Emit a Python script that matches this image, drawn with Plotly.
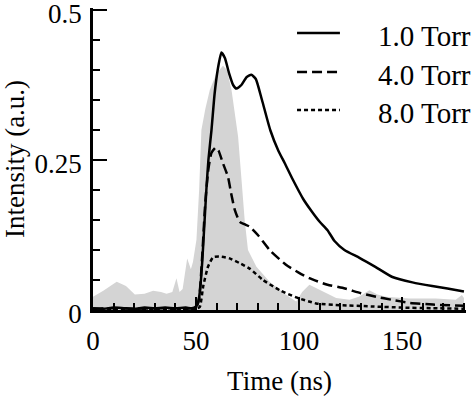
import plotly.graph_objects as go

# ---- data ----
t_1torr = [0, 5, 10, 15, 20, 25, 30, 35, 40, 45, 48, 50, 51, 52, 53, 54, 55, 56, 57.5, 59, 60.5, 62.3,
           64, 66, 68, 69.6, 72, 74.5, 76.8, 79, 82, 86, 90, 93, 97, 102, 106, 110, 113.8, 117.2, 122,
           129.3, 137, 145.3, 155, 164.6, 172, 180]
i_1torr = [0.003, 0.002, 0.004, 0.003, 0.002, 0.004, 0.003, 0.004, 0.003, 0.004, 0.003, 0.006, 0.012,
           0.035, 0.08, 0.14, 0.20, 0.25, 0.30, 0.36, 0.40, 0.429, 0.42, 0.395, 0.375, 0.369, 0.375,
           0.388, 0.392, 0.385, 0.35, 0.30, 0.265, 0.245, 0.217, 0.185, 0.165, 0.147, 0.133, 0.115,
           0.10, 0.087, 0.072, 0.055, 0.046, 0.040, 0.036, 0.031]

t_4torr = [0, 10, 20, 30, 40, 45, 50, 51.5, 53, 54.5, 56, 57.5, 59.6, 61, 63, 65.5, 67, 68.8, 71.2, 73.5,
           76, 80, 85.7, 93.8, 100, 105, 113.8, 121, 130, 137.4, 145, 153.5, 165, 180]
i_4torr = [0.002, 0.003, 0.002, 0.003, 0.003, 0.002, 0.004, 0.02, 0.09, 0.18, 0.235, 0.262, 0.271, 0.265,
           0.245, 0.222, 0.195, 0.167, 0.147, 0.143, 0.139, 0.125, 0.10, 0.075, 0.062, 0.053, 0.042,
           0.037, 0.028, 0.022, 0.017, 0.012, 0.009, 0.007]

t_8torr = [0, 10, 20, 30, 40, 50, 51.8, 53.5, 55.8, 58.3, 61.5, 66.3, 71.2, 76, 82.5, 90.6, 98.6, 108.3,
           120, 135, 150, 165, 180]
i_8torr = [0.001, 0.002, 0.001, 0.002, 0.001, 0.002, 0.005, 0.04, 0.072, 0.088, 0.089, 0.086, 0.078,
           0.069, 0.05, 0.033, 0.021, 0.011, 0.008, 0.006, 0.004, 0.003, 0.002]

t_pulse = [0, 5, 11.5, 16, 20.3, 25, 29.2, 33, 35.7, 38.5, 40.5, 42, 43.5, 45.7, 47.5, 48.5, 50.2, 51.5,
           52.6, 54.5, 56.7, 60, 63.1, 65, 67.2, 70.4, 72, 73.6, 75.2, 79.3, 85.7, 93.8, 98.6, 101.5, 105,
           110, 114.8, 118, 124.5, 129, 134.1, 138, 142.2, 153.5, 166.4, 176, 179, 180]
i_pulse = [0.022, 0.032, 0.047, 0.040, 0.026, 0.027, 0.032, 0.030, 0.027, 0.030, 0.053, 0.030, 0.035,
           0.086, 0.068, 0.080, 0.117, 0.20, 0.30, 0.335, 0.367, 0.395, 0.407, 0.40, 0.367, 0.289, 0.22,
           0.15, 0.10, 0.072, 0.047, 0.025, 0.014, 0.030, 0.042, 0.033, 0.025, 0.020, 0.017, 0.022, 0.033,
           0.026, 0.022, 0.019, 0.019, 0.017, 0.025, 0.02]

series_names = ["1.0 Torr", "4.0 Torr", "8.0 Torr"]
x_ticks = [0, 50, 100, 150]
y_ticks = [0, 0.25, 0.5]
y_tick_labels = ["0", "0.25", "0.5"]

FONT = "Liberation Serif"

fig = go.Figure()
fig.add_trace(go.Scatter(x=t_pulse, y=i_pulse, mode="lines", fill="tozeroy",
                         fillcolor="#d4d4d4", line=dict(width=0, color="#d4d4d4"),
                         showlegend=False, hoverinfo="skip"))
dashes = ["solid", "10px,5px", "4px,3px"]
data = [(t_1torr, i_1torr), (t_4torr, i_4torr), (t_8torr, i_8torr)]
for (tx, iy), name, d in zip(data, series_names, dashes):
    fig.add_trace(go.Scatter(x=tx, y=iy, mode="lines", name=name, showlegend=False, cliponaxis=False,
                             line=dict(color="black", width=2.5, dash=d, shape="spline", smoothing=0.5)))

# manual legend (line samples + labels); paper coords for plot area 8..310 px
def py(pix):
    return (310 - pix) / 302.0

leg_rows = [33, 72, 110]
for name, d, row in zip(series_names, dashes, leg_rows):
    fig.add_shape(type="line", xref="paper", yref="paper", x0=0.547, x1=0.662, y0=py(row), y1=py(row),
                  line=dict(color="black", width=2.5, dash=d))
    fig.add_annotation(xref="paper", yref="paper", x=0.76, y=py(row + 3), text=name, showarrow=False,
                       xanchor="left", yanchor="middle", font=dict(family=FONT, size=29, color="black"))

axis_common = dict(showline=True, linecolor="black", linewidth=2.5, ticks="inside", tickcolor="black",
                   tickwidth=2, showgrid=False, zeroline=False, mirror=False, automargin=False,
                   ticklabeloverflow="allow",
                   tickfont=dict(family=FONT, size=27, color="black"))
fig.update_xaxes(range=[0, 181], tickvals=x_ticks, ticklen=13,
                 minor=dict(dtick=10, tick0=0, ticks="inside", ticklen=7, tickcolor="black", tickwidth=2),
                 title=dict(text="Time (ns)", font=dict(family=FONT, size=27, color="black"), standoff=16),
                 ticklabelstandoff=5, **axis_common)
fig.update_yaxes(range=[0, 0.50333], tickvals=y_ticks, ticktext=y_tick_labels, ticklen=14,
                 minor=dict(dtick=0.05, tick0=0, ticks="inside", ticklen=7, tickcolor="black", tickwidth=2),
                 title=dict(text="Intensity (a.u.)", font=dict(family=FONT, size=27, color="black"), standoff=6),
                 ticklabelstandoff=3, ticklabelshift=4, **axis_common)

fig.update_layout(width=474, height=397, margin=dict(l=93, r=8, t=8, b=87),
                  plot_bgcolor="white", paper_bgcolor="white", font=dict(family=FONT))
fig.write_html("out.html", post_script="document.body.style.margin='0';",
               config={"displayModeBar": False})
